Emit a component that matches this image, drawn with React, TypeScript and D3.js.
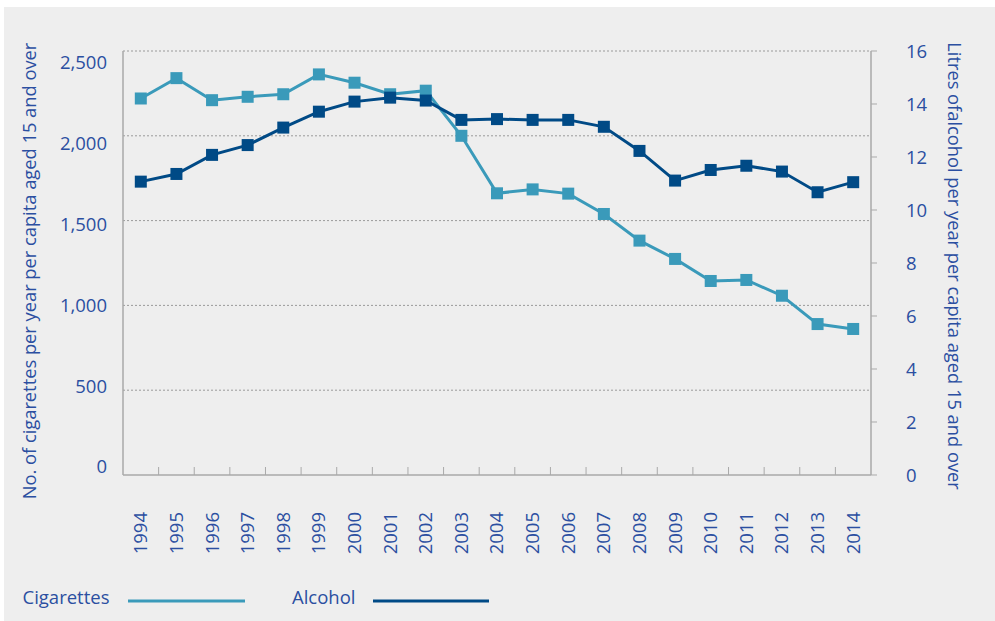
import React from "react";
import * as d3 from "d3";

const years = ["1994","1995","1996","1997","1998","1999","2000","2001","2002","2003","2004","2005","2006","2007","2008","2009","2010","2011","2012","2013","2014"];
const cigarettes = [2220,2340,2210,2230,2245,2362,2313,2245,2266,2000,1661,1684,1659,1539,1382,1274,1144,1150,1057,890,861];
const alcohol = [11.07,11.36,12.08,12.45,13.11,13.71,14.09,14.24,14.13,13.40,13.43,13.40,13.40,13.14,12.23,11.11,11.51,11.67,11.45,10.67,11.05];
const leftTicks = [0,500,1000,1500,2000,2500];
const rightTicks = [0,2,4,6,8,10,12,14,16];
const leftTitle = "No. of cigarettes per year per capita aged 15 and over";
const rightTitle = "Litres ofalcohol per year per capita aged 15 and over";
const legendItems = ["Cigarettes","Alcohol"];

const W = 995, H = 621;
const L = 123, R = 871, T = 51, B = 475;
const textColor = "#2b4fa1";
const cigColor = "#3a9aba";
const alcColor = "#004a86";
const axisColor = "#a9a9a9";
const font = "'Open Sans', sans-serif";

export default function App() {
  const x = d3.scaleBand<string>().domain(years).range([L, R]).padding(0);
  const yL = d3.scaleLinear().domain([0, 2500]).range([B, T]);
  const yLlabel = d3.scaleLinear().domain([0, 2500]).range([467, 63]);
  const yR = d3.scaleLinear().domain([0, 16]).range([B, T]);
  const cx = (yr: string) => (x(yr) as number) + x.bandwidth() / 2;

  const cigLine = d3.line<number>().x((_, i) => cx(years[i])).y((d) => yL(d));
  const alcLine = d3.line<number>().x((_, i) => cx(years[i])).y((d) => yR(d));
  const ms = 12;

  return (
    <svg width={W} height={H} style={{ position: "absolute", left: 0, top: 0 }} fontFamily={font}>
      <rect x={0} y={0} width={W} height={H} fill="#ffffff" />
      <rect x={4} y={7} width={W - 4} height={H - 7} fill="#eeeeee" />

      {/* gridlines */}
      {leftTicks.filter((t) => t > 0).map((t) => (
        <line key={"g" + t} x1={L} x2={R} y1={yL(t)} y2={yL(t)} stroke="#9a9a9a" strokeWidth={1} strokeDasharray="2,2" />
      ))}

      {/* axes */}
      <line x1={L} x2={L} y1={T} y2={B} stroke={axisColor} strokeWidth={1.5} />
      <line x1={R} x2={R} y1={T} y2={B} stroke={axisColor} strokeWidth={1.5} />
      <line x1={L} x2={R} y1={B} y2={B} stroke={axisColor} strokeWidth={1.5} />
      {years.slice(1).map((yr) => (
        <line key={"xt" + yr} x1={x(yr) as number} x2={x(yr) as number} y1={B} y2={B - 8} stroke={axisColor} strokeWidth={1} />
      ))}
      {rightTicks.map((t) => (
        <line key={"rt" + t} x1={R} x2={R + 6} y1={yR(t)} y2={yR(t)} stroke={axisColor} strokeWidth={1} />
      ))}

      {/* tick labels */}
      {leftTicks.map((t) => (
        <text key={"ll" + t} x={107} y={yLlabel(t)} dy="0.35em" textAnchor="end" fontSize={18.5} fill={textColor}>
          {d3.format(",")(t)}
        </text>
      ))}
      {rightTicks.map((t) => (
        <text key={"rl" + t} x={906} y={yR(t) + 1} dy="0.35em" textAnchor="start" fontSize={18.5} fill={textColor}>
          {t}
        </text>
      ))}
      {years.map((yr) => (
        <text key={"xl" + yr} transform={`translate(${cx(yr)},512) rotate(-90)`} dy="0.35em" textAnchor="end" fontSize={18.5} fill={textColor}>
          {yr}
        </text>
      ))}

      {/* axis titles */}
      <text transform="translate(30,271) rotate(-90)" dy="0.35em" textAnchor="middle" fontSize={18.3} fill={textColor}>
        {leftTitle}
      </text>
      <text transform="translate(954,266) rotate(90)" dy="0.35em" textAnchor="middle" fontSize={18.3} fill={textColor}>
        {rightTitle}
      </text>

      {/* series */}
      <path d={cigLine(cigarettes) || ""} fill="none" stroke={cigColor} strokeWidth={3} />
      {cigarettes.map((v, i) => (
        <rect key={"cm" + i} x={cx(years[i]) - ms / 2} y={yL(v) - ms / 2} width={ms} height={ms} fill={cigColor} />
      ))}
      <path d={alcLine(alcohol) || ""} fill="none" stroke={alcColor} strokeWidth={3} />
      {alcohol.map((v, i) => (
        <rect key={"am" + i} x={cx(years[i]) - ms / 2} y={yR(v) - ms / 2} width={ms} height={ms} fill={alcColor} />
      ))}

      {/* legend */}
      <text x={22.5} y={604} fontSize={18.5} fill={textColor}>{legendItems[0]}</text>
      <line x1={128} x2={245} y1={601} y2={601} stroke={cigColor} strokeWidth={3} />
      <text x={292} y={604} fontSize={18.5} fill={textColor}>{legendItems[1]}</text>
      <line x1={373} x2={489} y1={601} y2={601} stroke={alcColor} strokeWidth={3} />
    </svg>
  );
}
